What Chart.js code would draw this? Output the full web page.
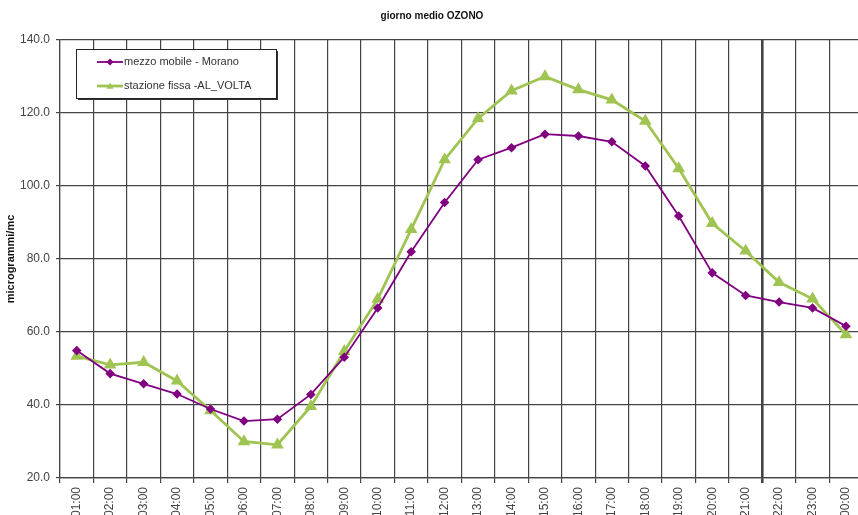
<!DOCTYPE html>
<html>
<head>
<meta charset="utf-8">
<script src="https://cdn.jsdelivr.net/npm/chart.js@4/dist/chart.umd.min.js"></script>
<style>
  html, body { margin: 0; padding: 0; background: #fff; overflow: hidden; }
  #wrap { width: 858px; height: 515px; overflow: hidden; position: relative; }
  #box { width: 870px; height: 530px; position: absolute; left: 0; top: 0; }
</style>
</head>
<body>
<div id="wrap"><div id="box"><canvas id="chart"></canvas></div></div>
<script>
// giorno medio OZONO — hourly averages
const hours = ['01:00', '02:00', '03:00', '04:00', '05:00', '06:00', '07:00', '08:00',
  '09:00', '10:00', '11:00', '12:00', '13:00', '14:00', '15:00', '16:00',
  '17:00', '18:00', '19:00', '20:00', '21:00', '22:00', '23:00', '00:00'];

const morano = [54.9, 48.6, 45.8, 43.0, 38.9, 35.6, 36.1, 42.9,
  53.1, 66.6, 82.0, 95.5, 107.2, 110.5, 114.2, 113.7,
  112.1, 105.5, 91.8, 76.2, 70.0, 68.2, 66.6, 61.6];

const alVolta = [53.4, 51.0, 51.7, 46.6, 38.5, 30.0, 29.1, 39.6,
  54.7, 69.0, 88.1, 107.2, 118.5, 126.1, 130.0, 126.4,
  123.6, 117.8, 104.8, 89.8, 82.2, 73.6, 69.1, 59.3];

const yTicks = [20, 40, 60, 80, 100, 120, 140];

const PURPLE = '#800080';
const GREEN = '#9FC452';
const GRID = '#444444';

// Excel-style legend box sitting inside the plot area
const boxLegend = {
  id: 'boxLegend',
  afterDraw(chart) {
    const { ctx, chartArea } = chart;
    const x = chartArea.left + 16, y = chartArea.top + 9, w = 200, h = 49;
    ctx.save();
    ctx.fillStyle = '#333';
    ctx.fillRect(x + 2, y + 2, w, h);
    ctx.fillStyle = '#fff';
    ctx.fillRect(x, y, w, h);
    ctx.strokeStyle = '#222';
    ctx.lineWidth = 1;
    ctx.strokeRect(x + 0.5, y + 0.5, w, h);
    ctx.font = '11px "Liberation Sans", Arial, sans-serif';
    ctx.textBaseline = 'middle';
    chart.data.datasets.forEach((ds, i) => {
      const cy = y + 13 + i * 24;
      ctx.strokeStyle = ds.borderColor;
      ctx.lineWidth = ds.borderWidth;
      ctx.beginPath();
      ctx.moveTo(x + 21, cy);
      ctx.lineTo(x + 47, cy);
      ctx.stroke();
      ctx.fillStyle = ds.backgroundColor;
      ctx.beginPath();
      const mx = x + 34, r = 3.5;
      if (ds.pointStyle === 'triangle') {
        ctx.moveTo(mx, cy - r);
        ctx.lineTo(mx + r, cy + r * 0.8);
        ctx.lineTo(mx - r, cy + r * 0.8);
      } else {
        ctx.moveTo(mx, cy - r);
        ctx.lineTo(mx + r, cy);
        ctx.lineTo(mx, cy + r);
        ctx.lineTo(mx - r, cy);
      }
      ctx.closePath();
      ctx.fill();
      ctx.fillStyle = '#333';
      ctx.fillText(ds.label, x + 48, cy);
    });
    ctx.restore();
  },
};

new Chart(document.getElementById('chart'), {
  type: 'line',
  data: {
    labels: hours,
    datasets: [
      {
        label: 'mezzo mobile - Morano',
        data: morano,
        borderColor: PURPLE,
        backgroundColor: PURPLE,
        borderWidth: 1.8,
        pointStyle: 'rectRot',
        pointRadius: 3.5,
        tension: 0,
      },
      {
        label: 'stazione fissa -AL_VOLTA',
        data: alVolta,
        borderColor: GREEN,
        backgroundColor: GREEN,
        borderWidth: 2.8,
        pointStyle: 'triangle',
        pointRadius: 4.5,
        tension: 0,
      },
    ],
  },
  options: {
    responsive: true,
    maintainAspectRatio: false,
    animation: false,
    layout: { padding: { left: 0, right: 6, top: 0, bottom: 0 } },
    scales: {
      x: {
        offset: true,
        grid: {
          offset: true,
          color: GRID,
          lineWidth: ctx => ctx.index === 21 ? 2.6 : 1.2,
          tickLength: 5,
        },
        border: { color: GRID, width: 1.2 },
        ticks: {
          color: '#444',
          font: { family: '"Liberation Sans", Arial, sans-serif', size: 12 },
          minRotation: 90,
          maxRotation: 90,
          autoSkip: false,
          padding: 4,
        },
        afterFit: s => { s.height = 52; },
      },
      y: {
        min: 20,
        max: 140,
        afterBuildTicks: s => { s.ticks = yTicks.map(v => ({ value: v })); },
        grid: { color: GRID, lineWidth: 1.2, tickLength: 4 },
        border: { color: GRID, width: 1.2 },
        ticks: {
          color: '#444',
          font: { family: '"Liberation Sans", Arial, sans-serif', size: 12 },
          padding: 6,
          callback: v => v.toFixed(1),
        },
        title: {
          display: true,
          text: 'microgrammi/mc',
          color: '#111',
          font: { family: '"Liberation Sans", Arial, sans-serif', size: 11, weight: 'bold' },
          padding: { top: 4, bottom: 0 },
        },
        afterFit: s => { s.width = 60; },
      },
    },
    plugins: {
      legend: { display: false },
      tooltip: { enabled: false },
      title: {
        display: true,
        text: 'giorno medio OZONO',
        color: '#111',
        font: { family: '"Liberation Sans", Arial, sans-serif', size: 10, weight: 'bold' },
        padding: { top: 10, bottom: 18 },
      },
    },
  },
  plugins: [boxLegend],
});
</script>
</body>
</html>
